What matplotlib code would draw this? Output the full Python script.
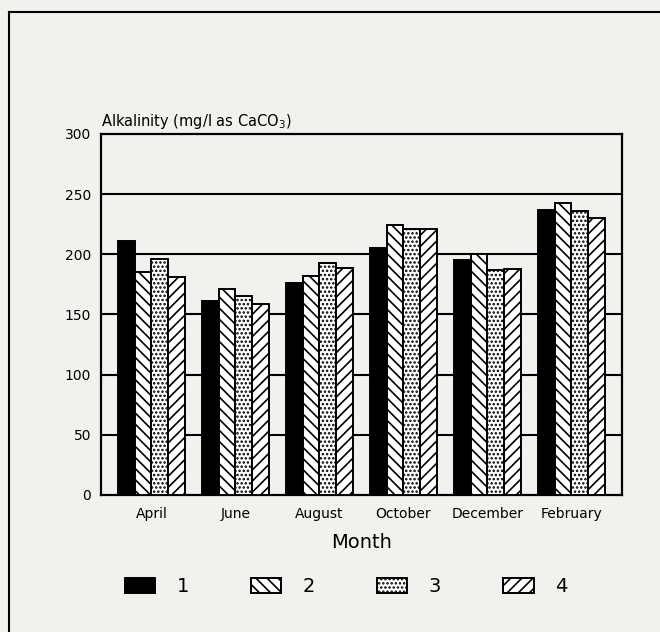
import matplotlib
matplotlib.use("Agg")
import matplotlib.pyplot as plt
import numpy as np
from matplotlib.lines import Line2D

# Alkalinity readings (mg/l as CaCO3) for four sampling points
months = ["April", "June", "August", "October", "December", "February"]
series_names = ["1", "2", "3", "4"]
site_1 = [211, 161, 176, 205, 195, 237]
site_2 = [185, 171, 182, 224, 200, 243]
site_3 = [196, 165, 193, 221, 187, 236]
site_4 = [181, 159, 189, 221, 188, 230]
y_ticks = [0, 50, 100, 150, 200, 250, 300]

plt.rcParams["font.family"] = ["DejaVu Sans"]
plt.rcParams["hatch.linewidth"] = 1.2
plt.rcParams["hatch.color"] = "black"

paper = "#f1f1ee"
fig = plt.figure(figsize=(6.6, 6.32), dpi=100, facecolor=paper)
ax = fig.add_axes([0.153, 0.2168, 0.789, 0.5712], facecolor=paper)

styles = [
    dict(color="black", hatch=None),
    dict(color="white", hatch="\\\\\\"),
    dict(color="white", hatch="...."),
    dict(color="white", hatch="///"),
]
values = [site_1, site_2, site_3, site_4]
x = np.arange(len(months))
width = 0.2
handles = []
for j, (vals, st) in enumerate(zip(values, styles)):
    b = ax.bar(x + (j - 1.5) * width, vals, width,
               color=st["color"], hatch=st["hatch"],
               edgecolor="black", linewidth=1.4, zorder=3,
               label=series_names[j])
    handles.append(b)

# horizontal reference lines behind the bars
for v in y_ticks[1:-1]:
    ax.axhline(v, color="black", linewidth=1.5, zorder=1)

ax.set_xlim(-0.6, 5.6)
ax.set_ylim(0, 300)
ax.set_yticks(y_ticks)
ax.set_xticks(x)
ax.set_xticklabels(months, fontsize=10)
ax.tick_params(axis="both", length=0, labelsize=10)
ax.tick_params(axis="y", pad=7)
ax.tick_params(axis="x", pad=9)
for s in ax.spines.values():
    s.set_linewidth(1.6)
    s.set_color("black")

ax.set_xlabel("Month", fontsize=14, labelpad=8)
ax.text(0.0, 1.008, "Alkalinity (mg/l as CaCO$_3$)", transform=ax.transAxes,
        ha="left", va="bottom", fontsize=10.5)

fig.legend(handles=handles, labels=series_names, loc="center left",
           bbox_to_anchor=(125 / 660, 1 - 587 / 632), ncol=4, frameon=False,
           fontsize=14, handlelength=1.55, handleheight=0.8,
           handletextpad=1.1, columnspacing=3.2, borderpad=0,
           borderaxespad=0)

# page frame around the figure
fig.add_artist(Line2D([9 / 660, 9 / 660], [0, 1 - 12 / 632],
                      transform=fig.transFigure, color="black", linewidth=1.5))
fig.add_artist(Line2D([9 / 660, 1], [1 - 12 / 632, 1 - 12 / 632],
                      transform=fig.transFigure, color="black", linewidth=1.5))

fig.savefig("out.png", dpi=100, facecolor=paper)
